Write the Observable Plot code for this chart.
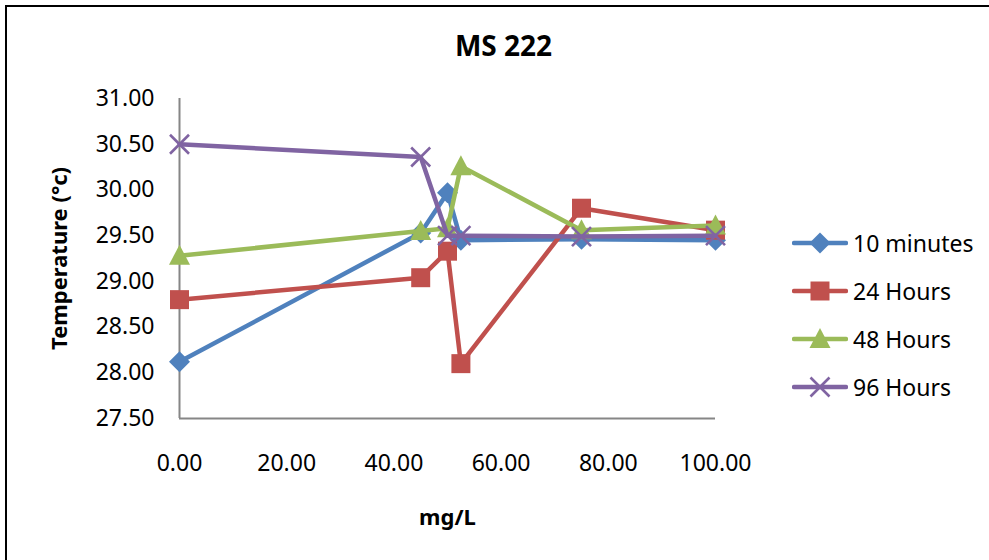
<!DOCTYPE html>
<html>
<head>
<meta charset="utf-8">
<script src="https://cdn.jsdelivr.net/npm/d3@7"></script>
<script src="https://cdn.jsdelivr.net/npm/@observablehq/plot@0.6"></script>
<style>
  html, body { margin: 0; padding: 0; background: #fff; }
  #wrap { position: relative; width: 989px; height: 560px; overflow: hidden; font-family: "Noto Sans", sans-serif; }
  #border { position: absolute; left: 5px; top: 5px; width: 1000px; height: 600px; border-left: 2px solid #000; border-top: 2px solid #000; pointer-events: none; }
  #legend { position: absolute; left: 792px; top: 219px; }
  .item { display: flex; align-items: center; height: 48px; font-size: 23px; color: #000; }
  .item svg { display: block; margin-right: 5px; }
</style>
</head>
<body>
<div id="wrap"><div id="border"></div><div id="legend"></div></div>
<script>
// MS 222 concentration (mg/L) and water temperature (°C) at each sampling time
const doses = [0, 45, 50, 52.5, 75, 100];
const seriesNames = ["10 minutes", "24 Hours", "48 Hours", "96 Hours"];
const temp10min = [28.12, 29.53, 29.97, 29.45, 29.46, 29.45];
const temp24h   = [28.80, 29.04, 29.33, 28.10, 29.80, 29.56];
const temp48h   = [29.28, 29.55, 29.58, 30.26, 29.56, 29.61];
const temp96h   = [30.50, 30.36, 29.50, 29.50, 29.49, 29.50];
const colors = ["#4F81BD", "#C0504D", "#9BBB59", "#8064A2"];
const yTicks = [27.5, 28, 28.5, 29, 29.5, 30, 30.5, 31];
const xTicks = [0, 20, 40, 60, 80, 100];

// Office-style marker shapes; r is the marker radius derived from Plot's symbol size
const rOf = size => Math.sqrt(size / Math.PI);
const diamond = {draw(c, size) { const r = rOf(size) * 1.05; c.moveTo(0, -r); c.lineTo(r, 0); c.lineTo(0, r); c.lineTo(-r, 0); c.closePath(); }};
const square = {draw(c, size) { const h = rOf(size) * 0.95; c.rect(-h, -h, 2 * h, 2 * h); }};
const triangle = {draw(c, size) { const r = rOf(size); c.moveTo(0, -1.1 * r); c.lineTo(1.05 * r, 0.9 * r); c.lineTo(-1.05 * r, 0.9 * r); c.closePath(); }};
const times = {draw(c, size) { const h = rOf(size) * 0.95; c.moveTo(-h, -h); c.lineTo(h, h); c.moveTo(h, -h); c.lineTo(-h, h); }};
const symbols = [diamond, square, triangle, times];

const values = [temp10min, temp24h, temp48h, temp96h];
const series = seriesNames.map((name, i) => doses.map((d, j) => ({dose: d, temp: values[i][j], name})));

const marks = [
  Plot.ruleX([0], {stroke: "#868686", strokeWidth: 2}),
  Plot.ruleY([27.5], {stroke: "#868686", strokeWidth: 2})
];
series.forEach((data, i) => {
  marks.push(Plot.line(data, {x: "dose", y: "temp", stroke: colors[i], strokeWidth: 4.5, strokeLinejoin: "round", strokeLinecap: "round"}));
  const isCross = symbols[i] === times;
  marks.push(Plot.dot(data, {
    x: "dose", y: "temp", r: 10, symbol: () => symbols[i],
    fill: isCross ? "none" : colors[i],
    stroke: isCross ? colors[i] : "none",
    strokeWidth: isCross ? 2.6 : 0
  }));
});
marks.push(
  Plot.text(["MS 222"], {frameAnchor: "top", dx: 56, dy: -51, lineAnchor: "middle", fontSize: 28, fontWeight: "bold"}),
  Plot.text(["mg/L"], {frameAnchor: "bottom", dy: 99, lineAnchor: "middle", fontSize: 22, fontWeight: "bold"}),
  Plot.text(["Temperature (°c)"], {frameAnchor: "left", dx: -120, rotate: -90, textAnchor: "middle", lineAnchor: "middle", fontSize: 22, fontWeight: "bold"})
);

const chart = Plot.plot({
  width: 989,
  height: 560,
  marginLeft: 179,
  marginRight: 274,
  marginTop: 98,
  marginBottom: 142,
  style: {fontFamily: "Noto Sans, sans-serif", fontSize: "23px", color: "#000", background: "transparent"},
  x: {domain: [0, 100], ticks: xTicks, tickFormat: d3.format(".2f"), tickSize: 0, tickPadding: 36, label: null},
  y: {domain: [27.5, 31], ticks: yTicks, tickFormat: d3.format(".2f"), tickSize: 0, tickPadding: 25, label: null},
  marks
});
chart.style.position = "absolute";
chart.style.left = "0";
chart.style.top = "0";
document.getElementById("wrap").prepend(chart);

// Legend: line sample with its marker, then the series name
const legend = d3.select("#legend");
seriesNames.forEach((name, i) => {
  const item = legend.append("div").attr("class", "item");
  const svg = item.append("svg").attr("width", 56).attr("height", 24);
  svg.append("line").attr("x1", 2).attr("x2", 54).attr("y1", 12).attr("y2", 12)
    .attr("stroke", colors[i]).attr("stroke-width", 4.5).attr("stroke-linecap", "round");
  const isCross = symbols[i] === times;
  svg.append("path").attr("transform", "translate(28,12)")
    .attr("d", d3.symbol(symbols[i], Math.PI * 100)())
    .attr("fill", isCross ? "none" : colors[i])
    .attr("stroke", isCross ? colors[i] : "none")
    .attr("stroke-width", 2.6);
  item.append("span").text(name);
});
</script>
</body>
</html>
